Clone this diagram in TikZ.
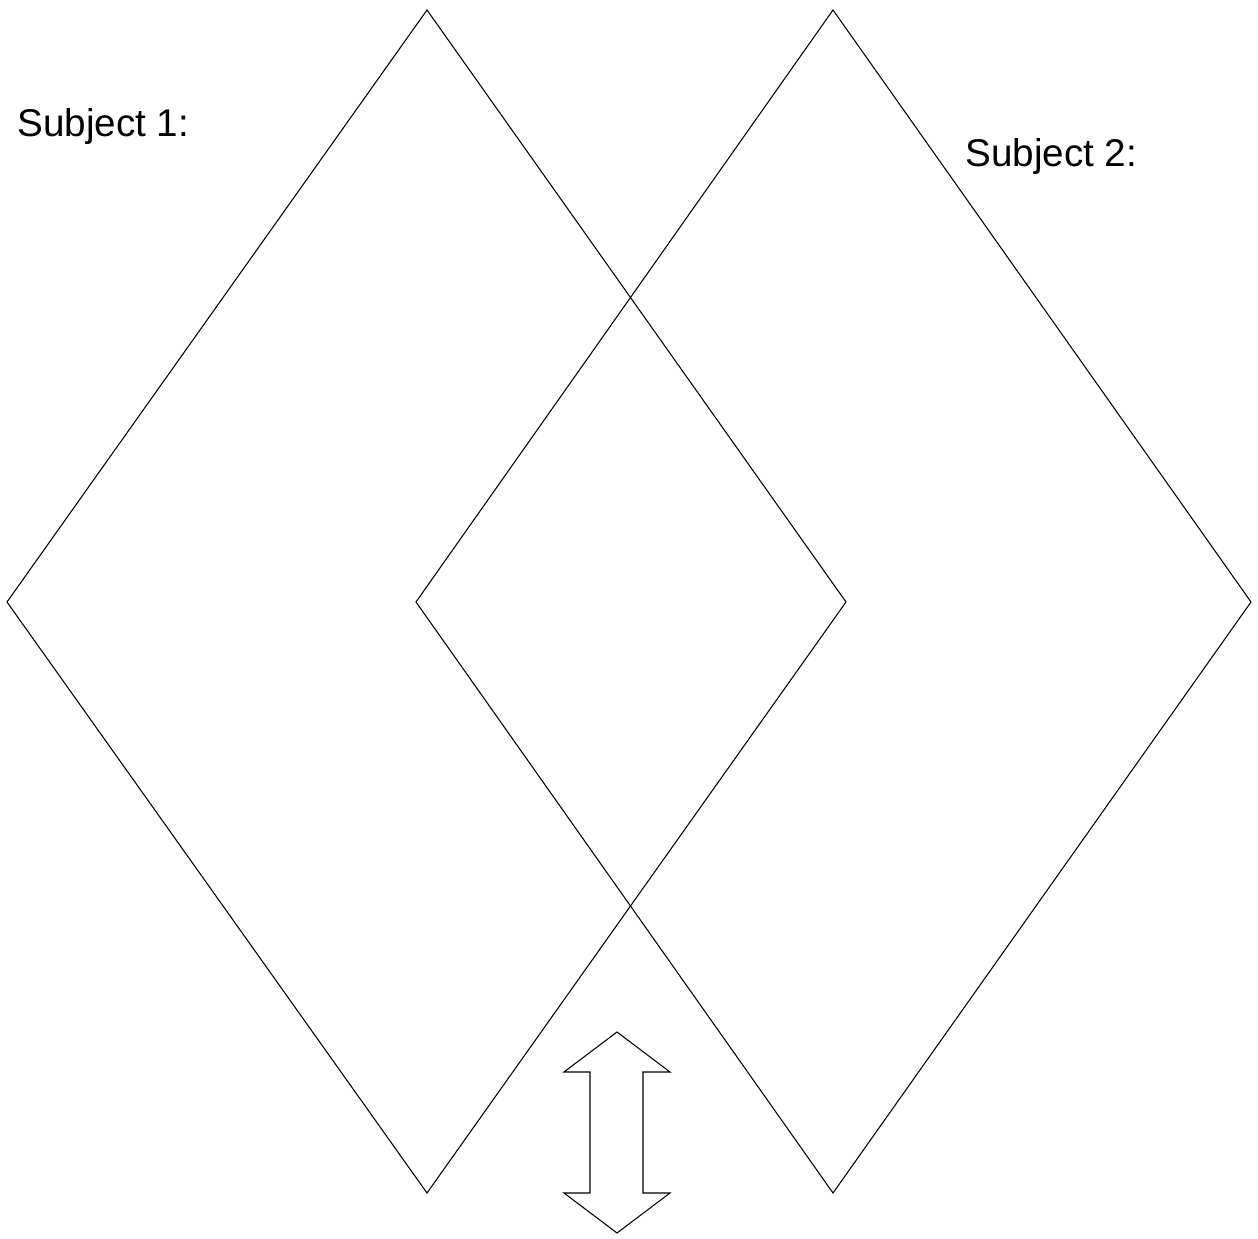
\documentclass[tikz,border=0pt]{standalone}
\usepackage{fontspec}
\setmainfont{Liberation Sans}
\begin{document}
\begin{tikzpicture}[x=0.02cm,y=-0.02cm,
  line/.style={draw=black,line width=0.6pt,line join=miter},
  label/.style={anchor=base west,inner sep=0pt,font=\fontsize{22pt}{25pt}\selectfont}]
\useasboundingbox[fill=white] (0,0) rectangle (1258,1239);
% diamond 1
\coordinate (a1) at (427,10);
\coordinate (a2) at (7,602);
\coordinate (a3) at (427,1193);
\coordinate (a4) at (846,602);
% diamond 2
\coordinate (b1) at (833,10);
\coordinate (b2) at (416,602);
\coordinate (b3) at (833,1193);
\coordinate (b4) at (1251,602);
\draw[line] (a1) -- (a2) -- (a3) -- (a4) -- cycle;
\draw[line] (b1) -- (b2) -- (b3) -- (b4) -- cycle;
% double arrow
\coordinate (t) at (617,1032);
\coordinate (hl) at (564,1072);
\coordinate (sl) at (590,1072);
\coordinate (sr) at (643,1072);
\coordinate (hr) at (670,1072);
\coordinate (bhr) at (670,1193);
\coordinate (bsr) at (643,1193);
\coordinate (bsl) at (590,1193);
\coordinate (bhl) at (564,1193);
\coordinate (bt) at (617,1233);
\draw[line] (t) -- (hr) -- (sr) -- (bsr) -- (bhr) -- (bt) -- (bhl) -- (bsl) -- (sl) -- (hl) -- cycle;
% labels
\node[label] (s1) at (17,137) {Subject 1:};
\node[label] (s2) at (965,167) {Subject 2:};
\end{tikzpicture}
\end{document}
